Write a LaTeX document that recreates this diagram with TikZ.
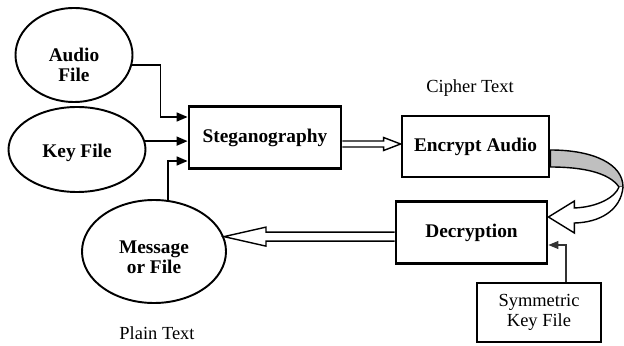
\documentclass[tikz,border=0pt]{standalone}
\usepackage{fontspec}
\setmainfont{Liberation Serif}
\usepackage{tikz}
\usetikzlibrary{arrows.meta, calc, shapes.geometric}

\begin{document}
\begin{tikzpicture}[
  file/.style={
    ellipse,
    draw=black,
    line width=1.1pt,
    inner sep=0pt
  },
  filetext/.style={
    font=\bfseries\fontsize{11}{11.5}\selectfont,
    align=center,
    inner sep=0pt
  },
  stage/.style={
    rectangle,
    draw=black,
    line width=1.6pt,
    minimum width=#1,
    minimum height=1.24cm,
    font=\bfseries\fontsize{11}{11.5}\selectfont,
    align=center
  },
  keybox/.style={
    rectangle,
    draw=black,
    line width=1.4pt,
    minimum width=2.48cm,
    minimum height=1.18cm,
    font=\fontsize{10.5}{11.5}\selectfont,
    align=center
  },
  note/.style={font=\fontsize{10.5}{12}\selectfont},
  connection/.style={
    -{Triangle[length=2.2mm,width=1.8mm]},
    line width=0.9pt
  },
  thinlink/.style={
    -{Triangle[length=2mm,width=1.6mm]},
    line width=0.6pt,
    draw=black!80
  },
  hollow/.style={line width=0.8pt, line join=miter}
]
\useasboundingbox (0,0) rectangle (12.48,6.9);

% Input files (text sits a little below the middle)
\node[file, minimum width=2.34cm, minimum height=1.88cm,
  label={[filetext, yshift=-1.9mm]center:{Audio\\File}}] (audio) at (1.48,5.80) {};
\node[file, minimum width=2.74cm, minimum height=1.70cm,
  label={[filetext, yshift=-0.7mm]center:{Key File}}] (keyf) at (1.54,3.91) {};
\node[file, minimum width=2.88cm, minimum height=2.06cm,
  label={[filetext, yshift=-1.2mm]center:{Message\\or File}}] (msg) at (3.08,1.87) {};

% Processing blocks
\node[stage=3.04cm] (steg) at (5.30,4.15) {Steganography};
\node[stage=2.94cm, minimum height=1.22cm] (enc) at (9.51,3.97) {Encrypt Audio};
\node[stage=3.02cm] (dec) at (9.43,2.25) {Decryption};
\node[keybox] (symkey) at (10.78,0.65) {Symmetric\\Key File};

% Labels
\node[note] (cipher) at (9.40,5.14) {Cipher Text};
\node[note] (plain) at (3.14,0.24) {Plain Text};

% Inputs into steganography
\draw[connection] (audio.-10) -- ++(0.57,0) |- ([yshift=4.1mm]steg.west);
\draw[connection] (keyf.7) -- (keyf.7 -| steg.west);
\draw[connection] (msg.75) |- ([yshift=-4.7mm]steg.west);

% Steganography to encryption
\coordinate (ctip) at ([yshift=0.5mm]enc.west);
\draw[hollow] ($(steg.east |- ctip)+(0,0.06)$) -- ($(ctip)+(-0.34,0.06)$)
  -- ($(ctip)+(-0.34,0.13)$) -- (ctip) -- ($(ctip)+(-0.34,-0.13)$)
  -- ($(ctip)+(-0.34,-0.06)$) -- ($(steg.east |- ctip)+(0,-0.06)$);

% Curved arrow from encryption down to decryption
\coordinate (bandtop) at ([yshift=-0.7mm]enc.east);
\coordinate (bandbot) at ([yshift=-4.1mm]enc.east);
\coordinate (dtip) at ([yshift=3.1mm]dec.east);
\filldraw[hollow, fill=black!25] (bandtop) .. controls ++(0.86,0) and (12.46,3.62) .. (12.46,3.16)
  -- (12.38,3.16) .. controls (12.18,3.45) and (11.65,3.56) .. (bandbot) -- cycle;
\filldraw[hollow, fill=white] (12.46,3.16) .. controls (12.42,2.70) and (12.0,2.45) .. ($(dtip)+(0.52,-0.12)$)
  -- ($(dtip)+(0.52,-0.32)$) -- (dtip) -- ($(dtip)+(0.52,0.32)$)
  -- ($(dtip)+(0.52,0.18)$) .. controls (11.95,2.76) and (12.3,2.95) .. (12.38,3.16);

% Decryption back to the message
\draw[hollow] ($(dec.west |- msg.12)+(0,0.09)$) -- ($(msg.12)+(0.84,0.09)$)
  -- ($(msg.12)+(0.84,0.19)$) -- (msg.12) -- ($(msg.12)+(0.84,-0.19)$)
  -- ($(msg.12)+(0.84,-0.09)$) -- ($(dec.west |- msg.12)+(0,-0.09)$);

% Key for decryption
\draw[thinlink] ([xshift=5.4mm]symkey.north) |- ([yshift=-2.5mm]dec.east);

\end{tikzpicture}
\end{document}
